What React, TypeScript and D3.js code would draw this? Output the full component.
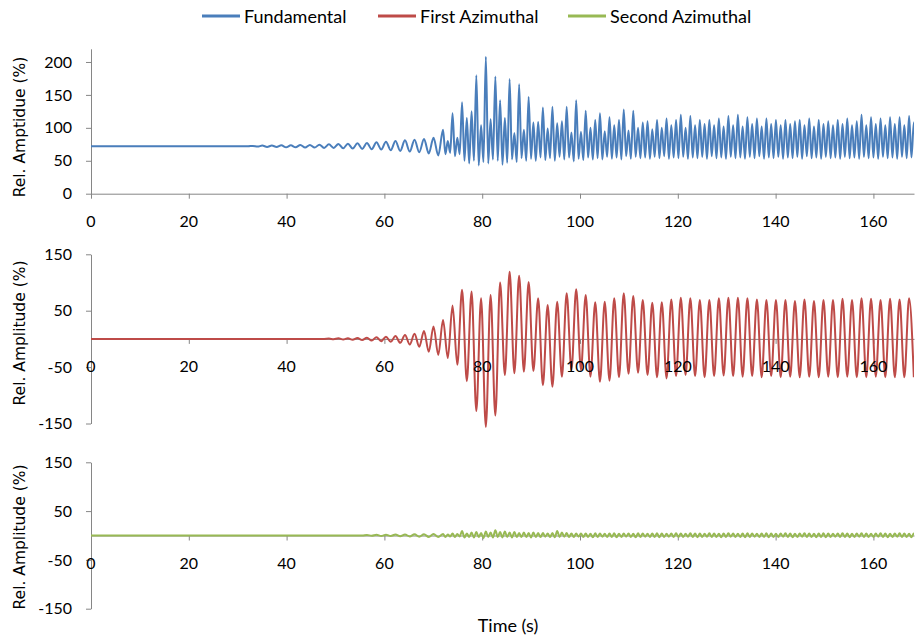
import React, { useEffect, useRef } from "react";
import * as d3 from "d3";

const W = 915;
const H = 636;

// tick labels
const xTicks = [0, 20, 40, 60, 80, 100, 120, 140, 160];
const fundTicks = [0, 50, 100, 150, 200];
const aziTicks = [-150, -50, 50, 150];

// timing: extremum j sits at cycleT0 + j * halfCycle (s)
const cycleT0 = 68.1;
const halfCycle = 0.9725;

// Fundamental (%): flat level, then the slow growing wave (j = -37..3),
// then peaks at j and troughs at j + 0.5 (j = 4..103)
const fundBase = 72;
const fundEarlyJ0 = -37;
const fundEarly = [72, 72.5, 71.5, 73, 71, 73, 71, 73.5, 70.5, 73.5, 70.5, 74, 70, 74, 70, 74.5, 69.5, 75, 69.5, 75.5,
  69, 76, 68.5, 76.5, 68, 77, 67.5, 78, 67, 79, 66, 80, 65, 81, 64, 82, 63, 83, 61, 85, 58];
const fundLateJ0 = 4;
const fundPeaks = [
  97, 80, 122, 85, 139, 115, 125, 180, 104, 208,
  113, 178, 142, 115, 174, 92, 166, 97, 147, 108,
  109, 131, 99, 132, 107, 110, 132, 93, 142, 94,
  126, 100, 112, 122, 95, 116, 104, 112, 128, 96,
  126, 100, 108, 110, 98, 112, 100, 114, 104, 112,
  120, 100, 118, 104, 112, 106, 112, 104, 114, 102,
  118, 104, 120, 102, 116, 106, 114, 102, 114, 106,
  112, 104, 112, 106, 110, 112, 104, 114, 102, 112,
  106, 110, 104, 112, 106, 114, 104, 110, 120, 104,
  116, 106, 114, 104, 116, 106, 116, 104, 118, 108];
const fundTroughs = [
  60, 62, 57, 60, 50, 46, 50, 43, 48, 46,
  52, 50, 44, 47, 52, 48, 54, 50, 53, 50,
  55, 51, 54, 50, 56, 52, 55, 49, 53, 51,
  55, 52, 54, 52, 56, 53, 55, 52, 57, 53,
  56, 54, 55, 53, 56, 54, 57, 53, 55, 54,
  56, 53, 55, 54, 56, 53, 57, 54, 55, 53,
  56, 54, 55, 53, 56, 54, 57, 53, 55, 54,
  56, 53, 55, 54, 56, 53, 57, 54, 55, 53,
  56, 54, 55, 53, 56, 54, 55, 53, 56, 54,
  55, 53, 56, 54, 55, 53, 56, 54, 55, 53];

// First Azimuthal (%): one extremum per j (j = -20..103)
const az1J0 = -20;
const az1 = [
  0.5, -0.5, 1, -1, 1, -1.5, 1.5, -2, 2, -3,
  3, -4, 4, -5, 5, -7, 7, -10, 9, -14,
  14, -23, 22, -28.5, 33.5, -34, 59, -46, 87, -75,
  84, -128, 72, -156, 78, -136, 100, -64, 119, -61,
  112, -58, 101, -57, 72, -82, 60, -85, 66, -67,
  81, -55, 88, -55, 78, -67, 65, -76, 66, -74,
  72, -68, 81, -62, 76, -60, 69, -64, 64, -68,
  65, -70, 70, -66, 73, -64, 72, -66, 69, -68,
  69, -66, 72, -65, 73, -66, 73, -67, 72, -66,
  70, -68, 69, -66, 69, -68, 69, -67, 67, -68,
  70, -67, 67, -68, 69, -67, 69, -68, 71, -67,
  69, -68, 72, -68, 71, -67, 69, -68, 71, -68,
  70, -68, 72, -68];

// Second Azimuthal (%)
const az2EarlyJ0 = -13;
const az2Early = [0, 1, -0.5, 1.5, -1, 1.5, -1, 2, -1.5, 2, -2, 2.5, -2.5, 2.5, -3, 3, -3];
const az2Peaks = [
  3, 2, 4, 3, 9, 4, 6, 7, 5, 8,
  6, 11, 7, 8, 6, 7, 5, 6, 5, 6,
  5, 5, 4, 5, 9, 6, 5, 4, 4, 4,
  4, 3.5, 4.5, 4, 3.5, 4, 4.5, 3.5, 4, 4,
  3.5, 4.5, 4, 3.5, 4, 4.5, 4, 3.5, 4, 4.5,
  4, 3.5, 4.5, 4, 4, 3.5, 4.5, 4, 3.5, 4,
  4.5, 4, 3.5, 4, 4.5, 4, 3.5, 4, 4.5, 4,
  3.5, 4, 4.5, 4, 3.5, 4, 4.5, 4, 3.5, 4,
  4.5, 4, 3.5, 4, 4.5, 4, 3.5, 4, 4.5, 4,
  3.5, 4, 4.5, 4, 3.5, 4, 4.5, 4, 3.5, 4];
const az2Troughs = [
  -3, -2, -3, -2, -4, -3, -4, -3, -5, -3,
  -4, -3, -4, -3, -4, -3, -3, -3, -4, -3,
  -3, -2.5, -3, -3.5, -3, -2.5, -3, -3, -2.5, -3,
  -3, -3.5, -3, -2.5, -3, -3, -3.5, -3, -2.5, -3,
  -3.5, -3, -2.5, -3, -3, -3.5, -3, -2.5, -3, -3,
  -3, -2.5, -3, -3.5, -3, -2.5, -3, -3, -3.5, -3,
  -2.5, -3, -3, -3.5, -3, -2.5, -3, -3, -3.5, -3,
  -3, -2.5, -3, -3.5, -3, -2.5, -3, -3, -3.5, -3,
  -3.5, -3, -2.5, -3, -3, -3.5, -3, -2.5, -3, -3,
  -3, -2.5, -3, -3.5, -3, -2.5, -3, -3, -3.5, -3];

const seriesNames = ["Fundamental", "First Azimuthal", "Second Azimuthal"];
const colors = ["#4a7ebb", "#be4b48", "#98b954"];

const tAt = (j: number) => cycleT0 + j * halfCycle;

function buildFund() {
  const pts: [number, number][] = [[0, fundBase]];
  fundEarly.forEach((v, i) => pts.push([tAt(fundEarlyJ0 + i), v]));
  fundPeaks.forEach((v, i) => {
    pts.push([tAt(fundLateJ0 + i), v]);
    pts.push([tAt(fundLateJ0 + i + 0.5), fundTroughs[i]]);
  });
  return pts;
}

function buildAz1() {
  const pts: [number, number][] = [[0, 0], [tAt(az1J0 - 1), 0]];
  az1.forEach((v, i) => pts.push([tAt(az1J0 + i), v]));
  return pts;
}

function buildAz2() {
  const pts: [number, number][] = [[0, 0], [tAt(az2EarlyJ0 - 1), 0]];
  az2Early.forEach((v, i) => pts.push([tAt(az2EarlyJ0 + i), v]));
  az2Peaks.forEach((v, i) => {
    pts.push([tAt(fundLateJ0 + i), v]);
    pts.push([tAt(fundLateJ0 + i + 0.5), az2Troughs[i]]);
  });
  return pts;
}

export default function App() {
  const ref = useRef<SVGSVGElement>(null);

  useEffect(() => {
    const svg = d3.select(ref.current);
    svg.selectAll("*").remove();

    const axisColor = "#868686";
    const tickFont = "Lato, 'Open Sans', sans-serif";
    const x = d3.scaleLinear().domain([0, 168.3]).range([91, 914]);

    svg.append("defs").append("clipPath").attr("id", "plotClip")
      .append("rect").attr("x", 91).attr("y", 0).attr("width", 823).attr("height", H);

    const panels = [
      { pts: buildFund(), color: colors[0], domain: [0, 220], range: [193.7, 48.8], ticks: fundTicks, title: "Rel. Amptidue (%)", titleY: 127 },
      { pts: buildAz1(), color: colors[1], domain: [-150, 150], range: [423.5, 254.3], ticks: aziTicks, title: "Rel. Amplitude (%)", titleY: 333 },
      { pts: buildAz2(), color: colors[2], domain: [-150, 150], range: [608.7, 462.3], ticks: aziTicks, title: "Rel. Amplitude (%)", titleY: 537 },
    ];

    panels.forEach(p => {
      const y = d3.scaleLinear().domain(p.domain).range(p.range);
      const y0 = y(0);

      // axis lines and tick marks
      const xg = svg.append("g").attr("transform", `translate(0,${y0})`)
        .call(d3.axisBottom(x).tickValues(xTicks).tickSize(5).tickSizeOuter(0).tickFormat(() => ""));
      const yg = svg.append("g").attr("transform", "translate(91,0)")
        .call(d3.axisLeft(y).tickValues(p.ticks).tickSize(5).tickSizeOuter(0).tickPadding(14)
          .tickFormat(d => String(d)));
      [xg, yg].forEach(g => {
        g.select(".domain").attr("stroke", axisColor).attr("stroke-width", 1);
        g.selectAll(".tick line").attr("stroke", axisColor);
      });
      yg.selectAll(".tick text").attr("font-family", tickFont).attr("font-size", 16).attr("fill", "#000");

      // series line
      const line = d3.line<[number, number]>()
        .x(d => x(d[0])).y(d => y(d[1]))
        .curve(d3.curveMonotoneX);
      svg.append("path")
        .attr("clip-path", "url(#plotClip)")
        .attr("d", line(p.pts))
        .attr("fill", "none")
        .attr("stroke", p.color)
        .attr("stroke-width", 2)
        .attr("stroke-linejoin", "round");

      // x tick labels on top of the line
      svg.append("g").selectAll("text").data(xTicks).join("text")
        .attr("x", d => x(d)).attr("y", y0 + 27)
        .attr("text-anchor", "middle").attr("dominant-baseline", "central")
        .attr("font-family", tickFont).attr("font-size", 16).attr("fill", "#000")
        .text(d => d);

      // y title
      svg.append("text")
        .attr("transform", `translate(20,${p.titleY}) rotate(-90)`)
        .attr("text-anchor", "middle").attr("dominant-baseline", "central")
        .attr("font-family", "'DejaVu Sans', Verdana, sans-serif").attr("font-size", 15.5)
        .attr("fill", "#000")
        .text(p.title);
    });

    svg.append("text")
      .attr("x", 508).attr("y", 625)
      .attr("text-anchor", "middle").attr("dominant-baseline", "central")
      .attr("font-family", tickFont).attr("font-size", 18).attr("fill", "#000")
      .text("Time (s)");

    // legend
    const legendX = [202, 378, 568];
    const lg = svg.append("g");
    seriesNames.forEach((name, i) => {
      lg.append("line")
        .attr("x1", legendX[i]).attr("x2", legendX[i] + 38)
        .attr("y1", 16).attr("y2", 16)
        .attr("stroke", colors[i]).attr("stroke-width", 3);
      lg.append("text")
        .attr("x", legendX[i] + 42).attr("y", 16)
        .attr("dominant-baseline", "central")
        .attr("font-family", tickFont).attr("font-size", 18).attr("fill", "#000")
        .text(name);
    });
  }, []);

  return (
    <svg ref={ref} width={W} height={H}
      style={{ position: "absolute", left: 0, top: 0, background: "#fff" }} />
  );
}
